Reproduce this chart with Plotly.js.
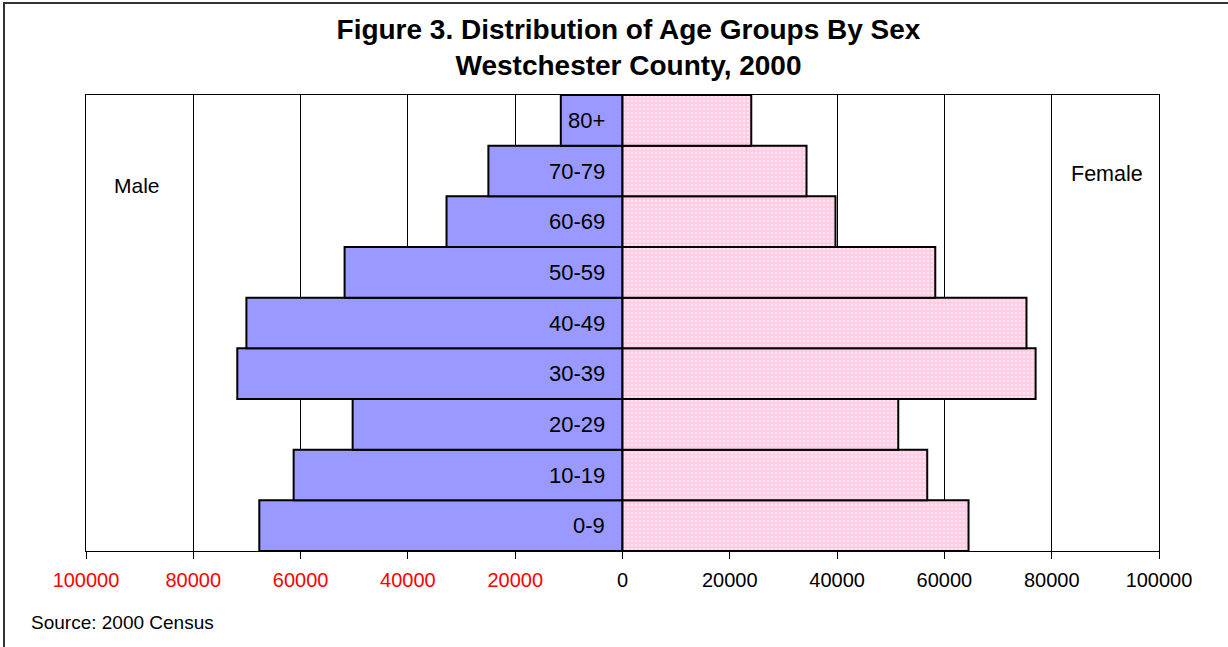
<!DOCTYPE html>
<html>
<head>
<meta charset="utf-8">
<script src="https://cdn.plot.ly/plotly-3.0.1.min.js"></script>
<style>
html,body{margin:0;padding:0;background:#fff;}
#chart{width:1228px;height:647px;}
</style>
</head>
<body>
<div id="chart"></div>
<script>
const ages = ['0-9','10-19','20-29','30-39','40-49','50-59','60-69','70-79','80+'];
const male = [67700, 61300, 50300, 71800, 70100, 51800, 32800, 25000, 11500];
const female = [64500, 56800, 51400, 77000, 75300, 58300, 39700, 34300, 24000];
const tickVals = [-100000,-80000,-60000,-40000,-20000,0,20000,40000,60000,80000,100000];
const tickText = ['100000','80000','60000','40000','20000','0','20000','40000','60000','80000','100000'];

const FONT = 'Arial, "Liberation Sans", sans-serif';

const traces = [
  {
    type: 'bar', orientation: 'h', name: 'Male',
    y: ages, x: male.map(v => -v),
    marker: {color: '#9999FF', line: {color: '#000', width: 2}},
    hoverinfo: 'skip'
  },
  {
    type: 'bar', orientation: 'h', name: 'Female',
    y: ages, x: female,
    marker: {color: '#FFCCE5', line: {color: '#000', width: 2},
      pattern: {shape: '.', fgcolor: '#FFE3F0', bgcolor: '#FFCCE5', size: 4, solidity: 0.35}},
    hoverinfo: 'skip'
  }
];

const annotations = ages.map(a => ({
  x: 0, y: a, xref: 'x', yref: 'y', text: a, showarrow: false,
  xanchor: 'right', xshift: -16, font: {family: FONT, size: 22, color: '#000'}
}));
annotations.push({xref:'paper', yref:'paper', x:(137-86)/1073, y:1-(185-95)/456, text:'Male', showarrow:false, xanchor:'center', yanchor:'middle', font:{family:FONT,size:21,color:'#000'}});
annotations.push({xref:'paper', yref:'paper', x:(1107-86)/1073, y:1-(174-95)/456, text:'Female', showarrow:false, xanchor:'center', yanchor:'middle', font:{family:FONT,size:21.5,color:'#000'}});
annotations.push({xref:'paper', yref:'paper', x:(29-86)/1073, y:1-(622-95)/456, text:'Source: 2000 Census', showarrow:false, xanchor:'left', yanchor:'middle', font:{family:FONT,size:19,color:'#000'}});

const layout = {
  width: 1228, height: 647,
  margin: {l: 86, r: 69, t: 95, b: 96},
  paper_bgcolor: '#fff', plot_bgcolor: '#fff',
  showlegend: false,
  barmode: 'overlay', bargap: 0,
  font: {family: FONT, color: '#000'},
  title: {
    text: '<b>Figure 3. Distribution of Age Groups By Sex<br>Westchester County, 2000</b>',
    x: 0.5 + 6/1073, xref: 'paper', xanchor: 'center', y: 1 - 39/647, yanchor: 'middle',
    font: {family: FONT, size: 28, color: '#000'}
  },
  xaxis: {
    range: [-100000, 100000], tickvals: tickVals,
    ticktext: tickText.map((t, i) => tickVals[i] < 0 ? '<span style="color:#FF0000">' + t + '</span>' : t),
    showgrid: true, gridcolor: '#000', gridwidth: 1,
    zeroline: false, showline: true, linecolor: '#000', linewidth: 1, mirror: true,
    ticks: 'outside', ticklen: 7, tickcolor: '#000', tickwidth: 1,
    ticklabelstandoff: 4,
    tickfont: {family: FONT, size: 20, color: '#000'}
  },
  yaxis: {
    type: 'category', categoryorder: 'array', categoryarray: ages,
    range: [-0.5, 8.5], showticklabels: false, showgrid: false, zeroline: false,
    showline: true, linecolor: '#000', linewidth: 1, mirror: true, ticks: ''
  },
  annotations: annotations,
  shapes: [{
    type: 'rect', xref: 'paper', yref: 'paper',
    x0: (4-86)/1073, x1: 1.3, y0: -0.5, y1: 1 + (95-3)/456,
    line: {color: '#333', width: 2}, fillcolor: 'rgba(0,0,0,0)', layer: 'below'
  }]
};

Plotly.newPlot('chart', traces, layout, {displayModeBar: false, staticPlot: true});
</script>
</body>
</html>
